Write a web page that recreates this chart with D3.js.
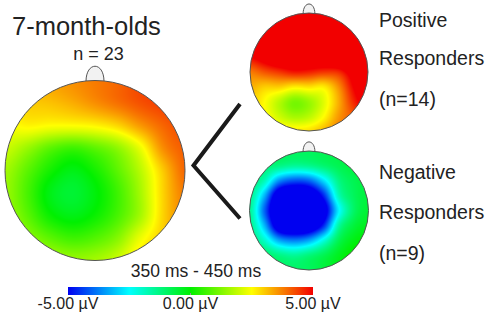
<!DOCTYPE html>
<html>
<head>
<meta charset="utf-8">
<script src="https://cdn.jsdelivr.net/npm/d3@7"></script>
<style>
  body { margin: 0; background: #fff; }
  svg { display: block; }
</style>
</head>
<body>
<div id="chart-area"></div>
<script>
// sample grid positions across the head (normalised, -1 .. 1, left->right and front->back)
const gridPos = [-1, -0.75, -0.5, -0.25, 0, 0.25, 0.5, 0.75, 1];

// amplitude (µV) at each grid node, rows front -> back
const allInfants = [
  [3.0, 3.2, 3.4, 3.6, 3.8, 4.0, 4.3, 4.5, 4.5],
  [2.8, 3.0, 3.1, 3.3, 3.6, 3.9, 4.2, 4.4, 4.5],
  [2.4, 2.6, 2.5, 2.5, 2.6, 2.9, 3.5, 4.0, 4.3],
  [2.0, 1.5, 0.9, 0.6, 0.9, 1.4, 2.3, 3.6, 4.1],
  [1.6, 0.9, 0.2, -0.2, 0.2, 0.9, 1.8, 3.0, 4.0],
  [1.5, 0.7, -0.2, -0.5, -0.1, 0.6, 1.6, 2.9, 3.8],
  [1.6, 0.9, 0.1, -0.2, 0.1, 0.7, 1.6, 2.9, 3.7],
  [1.9, 1.4, 0.9, 0.6, 0.8, 1.3, 2.3, 3.0, 3.5],
  [2.2, 2.0, 1.7, 1.5, 1.6, 2.0, 2.8, 3.2, 3.5]
];
const positiveResp = [
  [7, 7, 7, 7, 7, 7, 7, 7, 7],
  [7, 7, 7, 7, 7, 7, 7, 7, 7],
  [6.5, 6.5, 6.5, 6.5, 6.5, 6.5, 7, 7, 7],
  [5.0, 5.5, 6, 6, 6, 6, 6.5, 7, 7],
  [3.8, 4.2, 4.5, 4.8, 4.7, 4.5, 4.6, 5.5, 6],
  [3.3, 3.0, 3.0, 2.7, 2.8, 2.7, 3.6, 5.0, 6],
  [3.0, 2.5, 1.8, 1.2, 1.5, 2.2, 3.3, 4.6, 5.5],
  [3.0, 2.6, 2.0, 1.6, 1.8, 2.5, 3.5, 4.2, 5],
  [3.2, 3.0, 2.8, 2.7, 2.8, 3.2, 3.8, 4.3, 5]
];
const negativeResp = [
  [-0.8, -0.8, -0.9, -0.9, -0.9, -0.8, -0.7, -0.6, -0.5],
  [-1.0, -1.1, -1.3, -1.5, -1.4, -1.1, -0.8, -0.6, -0.5],
  [-1.1, -1.8, -3.6, -4.2, -4.0, -2.8, -1.3, -0.8, -0.6],
  [-1.3, -3.2, -6.0, -6.5, -6.2, -4.6, -1.8, -0.9, -0.6],
  [-1.4, -4.0, -6.5, -7.0, -6.8, -5.6, -2.6, -1.0, -0.5],
  [-1.3, -3.2, -6.0, -6.5, -6.2, -4.6, -1.6, -0.6, -0.3],
  [-1.1, -2.0, -3.4, -3.8, -3.4, -2.2, -0.8, -0.2, 0],
  [-0.9, -1.0, -1.3, -1.5, -1.2, -0.8, -0.3, 0.1, 0.2],
  [-0.8, -0.9, -1.0, -1.0, -0.9, -0.6, -0.2, 0.1, 0.2]
];

const colorStops = [-5, -2.5, 0, 2.5, 5];
const colorRange = ["#0000f0", "#00ffff", "#00f000", "#ffff00", "#f20000"];
const legendTicks = [-5, 0, 5];
const legendLabels = ["-5.00 µV", "0.00 µV", "5.00 µV"];

const width = 490, height = 322;
const font = "'Liberation Sans', Arial, sans-serif";
const ink = "#222";

const svg = d3.select('#chart-area')
  .append('svg')
  .attr('width', width)
  .attr('height', height)
  .style('font-family', font);

const color = d3.scaleLinear().domain(colorStops).range(colorRange).clamp(true);
const gridIndex = d3.scaleLinear().domain(d3.extent(gridPos)).range([0, gridPos.length - 1]).clamp(true);

function cubic(p0, p1, p2, p3, t) {
  return p1 + 0.5 * t * (p2 - p0 + t * (2 * p0 - 5 * p1 + 4 * p2 - p3 + t * (3 * (p1 - p2) + p3 - p0)));
}

function sample(grid, u, v) {
  const n = gridPos.length - 1;
  const gx = gridIndex(u), gy = gridIndex(v);
  const i = Math.min(n - 1, Math.floor(gx)), j = Math.min(n - 1, Math.floor(gy));
  const tx = gx - i, ty = gy - j;
  const at = (r, c) => grid[Math.max(0, Math.min(n, r))][Math.max(0, Math.min(n, c))];
  const rows = [-1, 0, 1, 2].map(d => cubic(at(j + d, i - 1), at(j + d, i), at(j + d, i + 1), at(j + d, i + 2), tx));
  return cubic(rows[0], rows[1], rows[2], rows[3], ty);
}

function drawHead(id, grid, cx, cy, r) {
  const x = d3.scaleLinear().domain([-1, 1]).range([cx - r, cx + r]);
  const y = d3.scaleLinear().domain([-1, 1]).range([cy - r, cy + r]);
  const x0 = Math.floor(cx - r), y0 = Math.floor(cy - r);
  const w = Math.ceil(cx + r) - x0, h = Math.ceil(cy + r) - y0;

  const canvas = document.createElement('canvas');
  canvas.width = w; canvas.height = h;
  const ctx = canvas.getContext('2d');
  const img = ctx.createImageData(w, h);
  for (let py = 0; py < h; py++) {
    for (let px = 0; px < w; px++) {
      const c = d3.rgb(color(sample(grid, x.invert(x0 + px + 0.5), y.invert(y0 + py + 0.5))));
      const k = (py * w + px) * 4;
      img.data[k] = c.r; img.data[k + 1] = c.g; img.data[k + 2] = c.b; img.data[k + 3] = 255;
    }
  }
  ctx.putImageData(img, 0, 0);

  const g = svg.append('g');

  // nose
  const nw = 0.1 * r, nh = 0.17 * r, top = cy - r + 1;
  g.append('path')
    .attr('d', `M${cx - nw},${top} C${cx - nw},${top - nh * 1.33} ${cx + nw},${top - nh * 1.33} ${cx + nw},${top}`)
    .attr('fill', '#f2f2f2')
    .attr('stroke', '#555')
    .attr('stroke-width', 1);

  svg.append('clipPath').attr('id', 'clip-' + id)
    .append('circle').attr('cx', cx).attr('cy', cy).attr('r', r);

  g.append('image')
    .attr('x', x0).attr('y', y0)
    .attr('width', w).attr('height', h)
    .attr('href', canvas.toDataURL())
    .attr('clip-path', `url(#clip-${id})`);

  g.append('circle')
    .attr('cx', cx).attr('cy', cy).attr('r', r)
    .attr('fill', 'none')
    .attr('stroke', '#555')
    .attr('stroke-width', 1);
}

drawHead('all', allInfants, 95, 170.5, 90);
drawHead('pos', positiveResp, 309, 72, 59);
drawHead('neg', negativeResp, 309, 210.5, 59.5);

// connector
svg.append('path')
  .attr('d', d3.line()([[240, 104], [193.5, 165.5], [240, 218.5]]))
  .attr('fill', 'none')
  .attr('stroke', '#1a1a1a')
  .attr('stroke-width', 4);

// texts
svg.append('text').attr('x', 12).attr('y', 35)
  .attr('font-size', 25.5).attr('fill', ink).text('7-month-olds');
svg.append('text').attr('x', 98.5).attr('y', 59.5)
  .attr('text-anchor', 'middle').attr('font-size', 18).attr('fill', ink).text('n = 23');

const sideLabels = [
  { y: 27, t: 'Positive' }, { y: 65, t: 'Responders' }, { y: 106, t: '(n=14)' },
  { y: 179, t: 'Negative' }, { y: 219, t: 'Responders' }, { y: 260, t: '(n=9)' }
];
svg.selectAll('text.side').data(sideLabels).join('text')
  .attr('class', 'side')
  .attr('x', 379).attr('y', d => d.y)
  .attr('font-size', 19.5).attr('fill', ink)
  .text(d => d.t);

svg.append('text').attr('x', 196).attr('y', 277)
  .attr('text-anchor', 'middle').attr('font-size', 17.5).attr('fill', ink)
  .text('350 ms - 450 ms');

// colour bar
const lx = d3.scaleLinear().domain([-5, 5]).range([68, 313]);
const grad = svg.append('defs').append('linearGradient').attr('id', 'bar-grad');
d3.range(0, 1.0001, 0.05).forEach(f => {
  grad.append('stop')
    .attr('offset', f)
    .attr('stop-color', color(lx.domain()[0] + f * (lx.domain()[1] - lx.domain()[0])));
});
svg.append('rect')
  .attr('x', lx(-5)).attr('y', 287)
  .attr('width', lx(5) - lx(-5)).attr('height', 8)
  .attr('fill', 'url(#bar-grad)');
svg.append('line')
  .attr('x1', lx(0)).attr('x2', lx(0)).attr('y1', 293).attr('y2', 295)
  .attr('stroke', '#999');

svg.selectAll('text.tick').data(legendTicks).join('text')
  .attr('class', 'tick')
  .attr('x', d => lx(d)).attr('y', 309)
  .attr('text-anchor', 'middle').attr('font-size', 16).attr('fill', ink)
  .text((d, i) => legendLabels[i]);
</script>
</body>
</html>
